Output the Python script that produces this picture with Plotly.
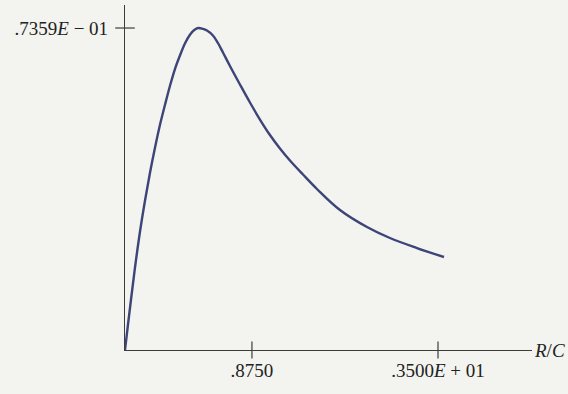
import plotly.graph_objects as go
import math

# Curve values (R/C on a log axis, y value)
rc = [0.3398, 0.3473, 0.3552, 0.3659, 0.3798, 0.3942, 0.4092, 0.4247, 0.4408, 0.4576,
      0.4749, 0.4930, 0.5117, 0.5311, 0.5513, 0.5679, 0.5864,
      0.6073, 0.6257, 0.6543, 0.6792, 0.7050, 0.7427, 0.8002, 0.8621, 0.9288, 1.0006,
      1.0780, 1.1614, 1.2796, 1.4203, 1.6859, 2.0619, 2.4465, 2.9923, 3.6596]
val = [0.0, 0.005714, 0.011427, 0.018740, 0.026968, 0.034052, 0.040452, 0.046165, 0.051422, 0.055992,
       0.060335, 0.064220, 0.067305, 0.070048, 0.072059, 0.073064, 0.07359,
       0.073384, 0.073019, 0.071876, 0.070162, 0.067990, 0.064905, 0.060677, 0.056564, 0.052678, 0.049136,
       0.046051, 0.043308, 0.040109, 0.036795, 0.031996, 0.028110, 0.025596, 0.023311, 0.021254]

x_ticks = [0.875, 3.5]
x_ticktext = [".8750", ".3500<i>E</i> + 01"]
y_ticks = [0.07359]
y_ticktext = [".7359<i>E</i> − 01"]

x_min, x_max = 0.3398, 7.05
y_min, y_max = 0.0, 0.07885

ink = "#3c3c3c"
txt = "#222222"
serif = "Liberation Serif, Times New Roman, serif"

fig = go.Figure()
fig.add_trace(go.Scatter(x=rc, y=val, mode="lines",
                         line=dict(color="#3d4478", width=2.4, shape="spline", smoothing=1.0),
                         cliponaxis=False, hoverinfo="skip"))
# crossing tick marks
fig.add_trace(go.Scatter(x=x_ticks, y=[y_min] * len(x_ticks), mode="markers",
                         marker=dict(symbol="line-ns-open", size=12, color=ink,
                                     line=dict(color=ink, width=1.2)),
                         cliponaxis=False, hoverinfo="skip"))
fig.add_trace(go.Scatter(x=[x_min] * len(y_ticks), y=y_ticks, mode="markers",
                         marker=dict(symbol="line-ew-open", size=14, color=ink,
                                     line=dict(color=ink, width=1.2)),
                         cliponaxis=False, hoverinfo="skip"))

fig.update_layout(
    width=568, height=394,
    margin=dict(l=125, r=36, t=5, b=44),
    paper_bgcolor="#f3f3ef", plot_bgcolor="#f3f3ef",
    showlegend=False,
    font=dict(family=serif, size=19, color=txt),
)
fig.update_xaxes(type="log", range=[math.log10(x_min), math.log10(x_max)],
                 showline=True, linecolor=ink, linewidth=1.2, showgrid=False, zeroline=False,
                 tickmode="array", tickvals=x_ticks, ticktext=x_ticktext, ticks="",
                 ticklabelstandoff=3, tickfont=dict(family=serif, size=19, color=txt))
fig.update_yaxes(range=[y_min, y_max],
                 showline=True, linecolor=ink, linewidth=1.2, showgrid=False, zeroline=False,
                 tickmode="array", tickvals=y_ticks, ticktext=y_ticktext, ticks="",
                 ticklabelstandoff=12, tickfont=dict(family=serif, size=19, color=txt))
fig.add_annotation(xref="paper", yref="paper", x=1, y=0, xanchor="left", yanchor="middle",
                   text="<i>R</i>/<i>C</i>", showarrow=False, xshift=0,
                   font=dict(family=serif, size=19, color=txt))

fig.write_html("out.html")
